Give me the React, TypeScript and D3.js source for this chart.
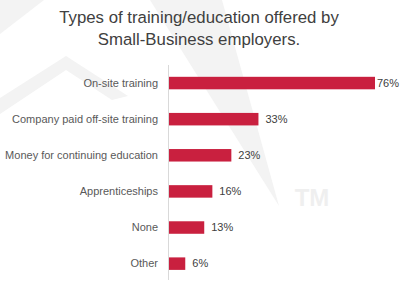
import React from "react";
import * as d3 from "d3";

const categories = [
  "On-site training",
  "Company paid off-site training",
  "Money for continuing education",
  "Apprenticeships",
  "None",
  "Other",
];
const values = [76, 33, 23, 16, 13, 6];
const titleLines = ["Types of training/education offered by", "Small-Business employers."];

const W = 400;
const H = 294;
const FONT = "'Liberation Sans', Arial, sans-serif";

export default function App() {
  const x = d3.scaleLinear().domain([0, d3.max(values) as number]).range([169, 375]);
  const y = d3
    .scaleBand<string>()
    .domain(categories)
    .range([65, 281.7])
    .paddingInner(0.654)
    .paddingOuter(0.327);
  const bw = y.bandwidth();

  return (
    <svg
      width={W}
      height={H}
      style={{ position: "absolute", left: 0, top: 0, background: "#fff" }}
    >
      {/* faint watermark */}
      <g fill="#f3f3f3">
        <polygon points="0,0 44,0 0,34" />
        <polygon points="0,98 66,56 128,96 112,100 66,70 0,114" />
        <polygon points="150,0 222,0 279,206" />
        <text
          x={312}
          y={206}
          textAnchor="middle"
          fontFamily={FONT}
          fontWeight="bold"
          fontSize={24}
          fill="#efefef"
        >
          TM
        </text>
      </g>

      {titleLines.map((t, i) => (
        <text
          key={i}
          x={199}
          y={23 + i * 22}
          textAnchor="middle"
          fontFamily={FONT}
          fontSize={16.8}
          fill="#404040"
        >
          {t}
        </text>
      ))}

      <line x1={168.5} x2={168.5} y1={65} y2={280} stroke="#d9d9d9" strokeWidth={1} />

      {categories.map((c, i) => {
        const yy = y(c) as number;
        const xe = x(values[i]);
        return (
          <g key={c}>
            <rect x={x(0)} y={yy} width={xe - x(0)} height={bw} fill="#c9203f" />
            <text
              x={158}
              y={yy + bw / 2}
              dy="0.35em"
              textAnchor="end"
              fontFamily={FONT}
              fontSize={11}
              fill="#595959"
            >
              {c}
            </text>
            <text
              x={Math.min(xe + 7, 377)}
              y={yy + bw / 2}
              dy="0.35em"
              fontFamily={FONT}
              fontSize={11}
              fill="#404040"
            >
              {values[i]}%
            </text>
          </g>
        );
      })}
    </svg>
  );
}
